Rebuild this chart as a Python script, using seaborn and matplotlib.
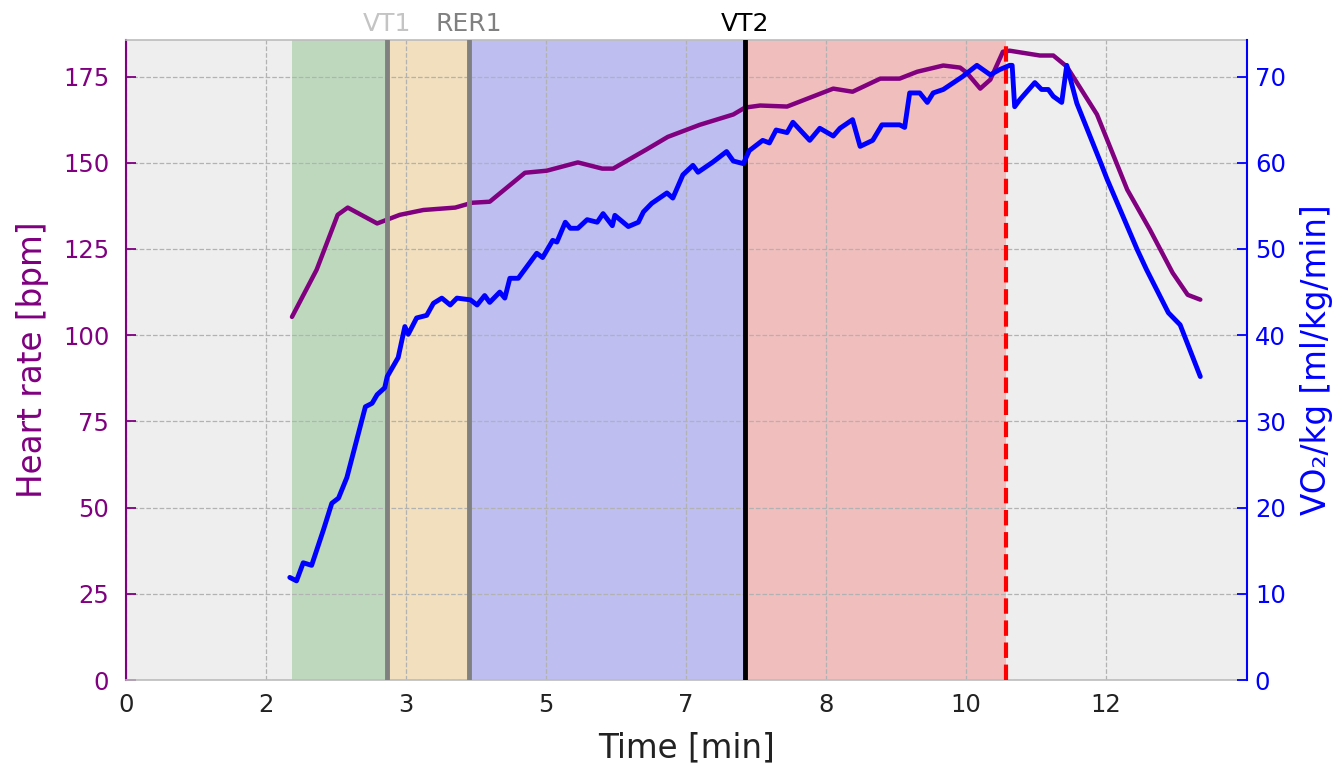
import numpy as np
import pandas as pd
import matplotlib
matplotlib.use("Agg")
import matplotlib.pyplot as plt
import seaborn as sns
from matplotlib.transforms import blended_transform_factory

# ---------------- data (time in minutes) ----------------
hr_time = [1.976, 2.27, 2.52, 2.64, 2.99, 3.26, 3.54, 3.92, 4.12, 4.33, 4.75, 5.01,
           5.38, 5.67, 5.80, 6.20, 6.45, 6.83, 7.23, 7.37, 7.55, 7.87, 8.42, 8.65,
           8.98, 9.21, 9.42, 9.73, 9.93, 10.01, 10.17, 10.29, 10.44, 10.52, 10.88,
           11.04, 11.20, 11.56, 11.92, 12.19, 12.46, 12.64, 12.79]
hr_bpm = [105.3, 119.0, 134.9, 137.0, 132.4, 134.9, 136.3, 137.0, 138.4, 138.7, 147.1, 147.7,
          150.1, 148.3, 148.3, 153.9, 157.5, 161.0, 164.0, 166.0, 166.6, 166.3, 171.5, 170.6,
          174.4, 174.4, 176.4, 178.2, 177.6, 176.1, 171.5, 174.1, 182.2, 182.5, 181.1,
          181.1, 177.9, 164.0, 142.2, 130.6, 118.1, 111.7, 110.3]

vo2_time = [1.95, 2.03, 2.11, 2.21, 2.35, 2.45, 2.53, 2.63, 2.85, 2.93, 2.99, 3.08, 3.11,
            3.24, 3.32, 3.36, 3.46, 3.58, 3.66, 3.76, 3.86, 3.94, 4.10, 4.18, 4.27, 4.33,
            4.45, 4.51, 4.57, 4.67, 4.89, 4.96, 5.08, 5.13, 5.23, 5.29, 5.38, 5.49, 5.61,
            5.68, 5.79, 5.82, 5.98, 6.10, 6.16, 6.26, 6.44, 6.51, 6.63, 6.75, 6.81, 6.99,
            7.15, 7.23, 7.35, 7.42, 7.58, 7.66, 7.74, 7.87, 7.94, 8.14, 8.26, 8.42, 8.50,
            8.65, 8.74, 8.89, 9.00, 9.21, 9.27, 9.33, 9.45, 9.54, 9.61, 9.73, 9.96, 10.13,
            10.29, 10.40, 10.52, 10.55, 10.58, 10.64, 10.82, 10.90, 10.98, 11.04, 11.14,
            11.20, 11.32, 11.60, 11.68, 12.04, 12.15, 12.41, 12.55, 12.79]
vo2_val = [11.9, 11.5, 13.6, 13.3, 17.4, 20.5, 21.1, 23.5, 31.7, 32.1, 33.1, 33.9, 35.2,
           37.4, 41.0, 40.1, 42.0, 42.3, 43.7, 44.3, 43.5, 44.3, 44.1, 43.5, 44.6, 43.8,
           45.0, 44.3, 46.6, 46.6, 49.5, 49.0, 51.0, 50.8, 53.1, 52.4, 52.4, 53.4, 53.1,
           54.1, 52.7, 53.9, 52.6, 53.1, 54.3, 55.3, 56.5, 55.9, 58.6, 59.7, 58.9, 60.1,
           61.3, 60.2, 59.9, 61.4, 62.6, 62.3, 63.8, 63.5, 64.7, 62.6, 64.0, 63.1, 64.0,
           65.0, 61.9, 62.6, 64.4, 64.4, 64.1, 68.1, 68.1, 67.0, 68.1, 68.5, 70.0, 71.3,
           70.2, 70.8, 71.3, 71.3, 66.5, 67.3, 69.3, 68.5, 68.5, 67.7, 67.0,
           71.3, 66.9, 60.1, 58.1, 49.9, 47.6, 42.6, 41.2, 35.2]

zone_edges = [1.976, 3.113, 4.083, 7.369, 10.476]
zone_colors = ["green", "orange", "blue", "red"]

threshold_names = ["VT1", "RER1", "VT2"]
threshold_times = [3.113, 4.083, 7.369]
threshold_line_colors = ["gray", "gray", "black"]
threshold_text_colors = ["#c4c4c4", "gray", "black"]
peak_time = 10.476

xtick_seconds = [0, 100, 200, 300, 400, 500, 600, 700]
xtick_labels = ["0", "2", "3", "5", "7", "8", "10", "12"]
hr_ticks = [0, 25, 50, 75, 100, 125, 150, 175]
vo2_ticks = [0, 10, 20, 30, 40, 50, 60, 70]

hr_df = pd.DataFrame({"time": hr_time, "hr": hr_bpm})
vo2_df = pd.DataFrame({"time": vo2_time, "vo2": vo2_val})

# ---------------- style ----------------
sns.set_theme(style="darkgrid", rc={
    "axes.facecolor": "#eeeeee",
    "axes.edgecolor": "#bcbcbc",
    "grid.color": "#b2b2b2",
    "grid.linestyle": "--",
    "grid.linewidth": 0.9,
    "axes.axisbelow": True,
})
plt.rcParams["font.family"] = ["DejaVu Sans"]

fig = plt.figure(figsize=(13.42, 7.68), dpi=100)
ax1 = fig.add_subplot(111)
fig.subplots_adjust(left=126 / 1342, right=1246.5 / 1342, top=1 - 40 / 768, bottom=1 - 680 / 768)

# zones
for i, c in enumerate(zone_colors):
    ax1.axvspan(zone_edges[i], zone_edges[i + 1], color=c, alpha=0.2, lw=0, zorder=0.1)

sns.lineplot(data=hr_df, x="time", y="hr", ax=ax1, color="purple", linewidth=3.2,
             estimator=None, sort=False, zorder=2)

trans = blended_transform_factory(ax1.transData, ax1.transAxes)
for name, t, lc, tc in zip(threshold_names, threshold_times, threshold_line_colors, threshold_text_colors):
    ax1.axvline(t, color=lc, linewidth=3.5, zorder=3)
    ax1.text(t, 1.0135, name, transform=trans, ha="center", va="baseline",
             fontsize=18, color=tc)
ax1.axvline(peak_time, color="red", linestyle="--", linewidth=3, zorder=3)

ax1.set_xlim(0, 13.34)
ax1.set_ylim(0, 185.6)
ax1.set_xticks([s / 60 for s in xtick_seconds])
ax1.set_xticklabels(xtick_labels)
ax1.set_yticks(hr_ticks)
ax1.set_xlabel("Time [min]", fontsize=23.5, color="#222222", labelpad=11)
ax1.set_ylabel("Heart rate [bpm]", fontsize=23.5, color="purple", labelpad=10)
ax1.tick_params(axis="x", direction="in", length=7, width=1.3, colors="black",
                labelcolor="#222222", labelsize=17.5, pad=9)
ax1.tick_params(axis="y", direction="in", length=7, width=1.3, colors="purple",
                labelsize=17.5, pad=12)
ax1.spines["left"].set_color("purple")
ax1.spines["left"].set_linewidth(1.5)
for s in ["top", "bottom"]:
    ax1.spines[s].set_color("#bcbcbc")
    ax1.spines[s].set_linewidth(1.2)
ax1.spines["right"].set_visible(False)

ax2 = ax1.twinx()
sns.lineplot(data=vo2_df, x="time", y="vo2", ax=ax2, color="blue", linewidth=3.5,
             estimator=None, sort=False, zorder=4)
ax2.set_ylim(0, 185.6 * 0.4)
ax2.set_yticks(vo2_ticks)
ax2.grid(False)
ax2.set_xlabel("")
ax2.set_ylabel("VO\u2082/kg [ml/kg/min]", fontsize=23.5, color="blue", labelpad=10)
ax2.tick_params(axis="y", direction="in", length=7, width=1.3, colors="blue",
                labelsize=17.5, pad=6)
ax2.spines["right"].set_color("blue")
ax2.spines["right"].set_linewidth(1.5)
ax2.spines["left"].set_visible(False)
ax2.spines["top"].set_visible(False)
ax2.spines["bottom"].set_visible(False)
ax1.set_xlim(0, 13.34)

fig.savefig("out.png", dpi=100)
